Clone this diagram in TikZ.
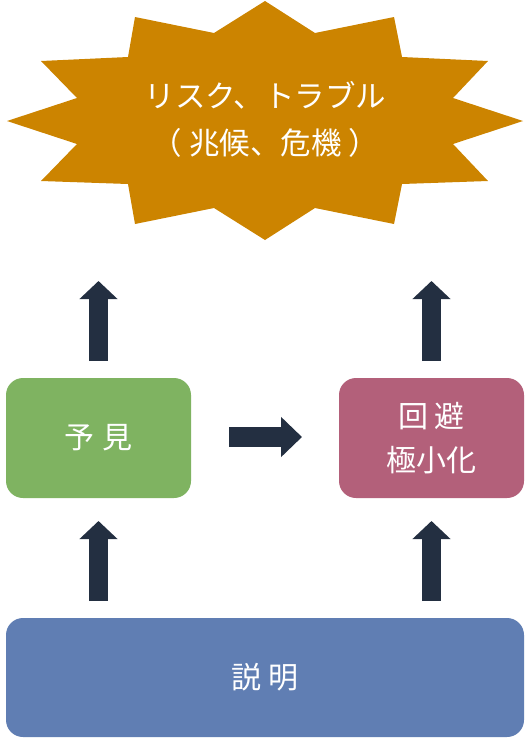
\documentclass[tikz,border=0pt]{standalone}
\usepackage{fontspec}
\setmainfont{Noto Sans CJK JP}
\usetikzlibrary{arrows.meta}
\definecolor{burst}{HTML}{CC8400}
\definecolor{gbox}{HTML}{7FB361}
\definecolor{pbox}{HTML}{B3607A}
\definecolor{bbox}{HTML}{607EB3}
\definecolor{arr}{HTML}{232F41}
\tikzset{
  box/.style={rounded corners=17pt, minimum width=185pt, minimum height=120pt, inner sep=0pt, text=white, align=center, font=\fontsize{30}{43.5}\selectfont},
  blk/.style={draw=arr, line width=19pt, -{Triangle[width=37pt,length=18pt]}},
  hblk/.style={draw=arr, line width=20pt, -{Triangle[width=39pt,length=21pt]}},
}
\begin{document}
\begin{tikzpicture}[x=1pt,y=-1pt]
\useasboundingbox (0,0) rectangle (530,740);
\fill[burst] (265,1) -- (315,33) -- (394,17) -- (402,57) -- (488,61) -- (453,98) -- (523,121) -- (453,144) -- (488,181) -- (402,184) -- (394,224) -- (315,208) -- (265,240) -- (214,208) -- (135,224) -- (128,184) -- (41,181) -- (77,144) -- (7,121) -- (77,98) -- (41,61) -- (128,57) -- (135,17) -- (214,33) -- cycle;
\node[text=white, align=center, font=\fontsize{30.5}{47}\selectfont] (risk) at (265.5,119.5) {リスク、トラブル\\（ 兆候、危機 ）};
\node[box, fill=gbox] (yoken) at (98.5,438) {予\hspace{8pt}見};
\node[box, fill=pbox] (kaihi) at (431.5,438) {回\hspace{6.5pt}避\\極小化};
\node[box, fill=bbox, minimum width=518pt, minimum height=119pt] (setsumei) at (265,677.5) {説\hspace{7.5pt}明};
\coordinate (a1s) at (98.5,361); \coordinate (a1e) at (98.5,281);
\coordinate (a2s) at (431.5,361); \coordinate (a2e) at (431.5,281);
\coordinate (a3s) at (98.5,601); \coordinate (a3e) at (98.5,521);
\coordinate (a4s) at (431.5,601); \coordinate (a4e) at (431.5,521);
\coordinate (a5s) at (229,437); \coordinate (a5e) at (302,437);
\draw[blk] (a1s) -- (a1e);
\draw[blk] (a2s) -- (a2e);
\draw[blk] (a3s) -- (a3e);
\draw[blk] (a4s) -- (a4e);
\draw[hblk] (a5s) -- (a5e);
\end{tikzpicture}
\end{document}
